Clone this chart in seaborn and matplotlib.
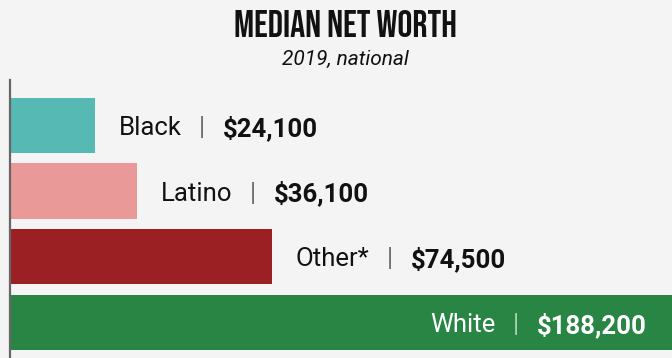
import matplotlib
matplotlib.use("Agg")
import matplotlib.pyplot as plt
import seaborn as sns
import pandas as pd

# Median household net worth by race/ethnicity, 2019
groups = ["Black", "Latino", "Other*", "White"]
net_worth = [24100, 36100, 74500, 188200]
value_labels = ["$24,100", "$36,100", "$74,500", "$188,200"]
bar_colors = ["#56b9b3", "#e99a98", "#9b2024", "#288544"]

title = "MEDIAN NET WORTH"
subtitle = "2019, national"

BG = "#f4f4f4"

sns.set_theme(style="white")
plt.rcParams["font.family"] = ["Roboto", "DejaVu Sans"]

df = pd.DataFrame({"group": groups, "worth": net_worth})

fig = plt.figure(figsize=(6.72, 3.58), dpi=100, facecolor=BG)
ax = fig.add_axes([10 / 672, 0, 662 / 672, 278 / 358])
ax.set_facecolor(BG)

sns.barplot(data=df, x="worth", y="group", hue="group", palette=bar_colors,
            orient="h", width=0.84, saturation=1, legend=False,
            linewidth=0, edgecolor="none", ax=ax)

ax.set_xlim(0, net_worth[-1])
ax.set_ylim(3.54, -0.69)
ax.set_xlabel("")
ax.set_ylabel("")
ax.set_xticks([])
ax.set_yticks([])
for side in ["top", "right", "bottom"]:
    ax.spines[side].set_visible(False)
ax.spines["left"].set_color("#666666")
ax.spines["left"].set_linewidth(1.6)
ax.spines["left"].set_zorder(5)

FS = 18.5
SEP_FS = 18
VA = "center_baseline"
last = len(groups) - 1
for i, (g, v, lab) in enumerate(zip(groups, net_worth, value_labels)):
    if i < last:
        name = ax.annotate(g, xy=(v, i), xytext=(17, 0), textcoords="offset points",
                           ha="left", va=VA, fontsize=FS, color="#111111")
        sep = ax.annotate("|", xy=(1, i), xycoords=(name, "data"), xytext=(12.5, 0),
                          textcoords="offset points", ha="left", va=VA,
                          fontsize=SEP_FS, color="#707070")
        ax.annotate(lab, xy=(1, i), xycoords=(sep, "data"), xytext=(13, 0),
                    textcoords="offset points", ha="left", va=VA,
                    fontsize=FS, fontweight="bold", color="#111111")
    else:
        val = ax.annotate(lab, xy=(v, i), xytext=(-18, 0), textcoords="offset points",
                          ha="right", va=VA, fontsize=FS, fontweight="bold",
                          color="white")
        sep = ax.annotate("|", xy=(0, i), xycoords=(val, "data"), xytext=(-13, 0),
                          textcoords="offset points", ha="right", va=VA,
                          fontsize=SEP_FS, color="#a9cfb2")
        ax.annotate(g, xy=(0, i), xycoords=(sep, "data"), xytext=(-12.5, 0),
                    textcoords="offset points", ha="right", va=VA,
                    fontsize=FS, color="white")

fig.text(0.514, 1 - 37 / 358, title, ha="center", va="baseline", fontsize=27,
         family=["Bebas Neue", "DejaVu Sans"], color="#111111")
fig.text(0.514, 1 - 65 / 358, subtitle, ha="center", va="baseline", fontsize=15,
         style="italic", color="#111111")

fig.savefig("out.png", dpi=100, facecolor=BG)
